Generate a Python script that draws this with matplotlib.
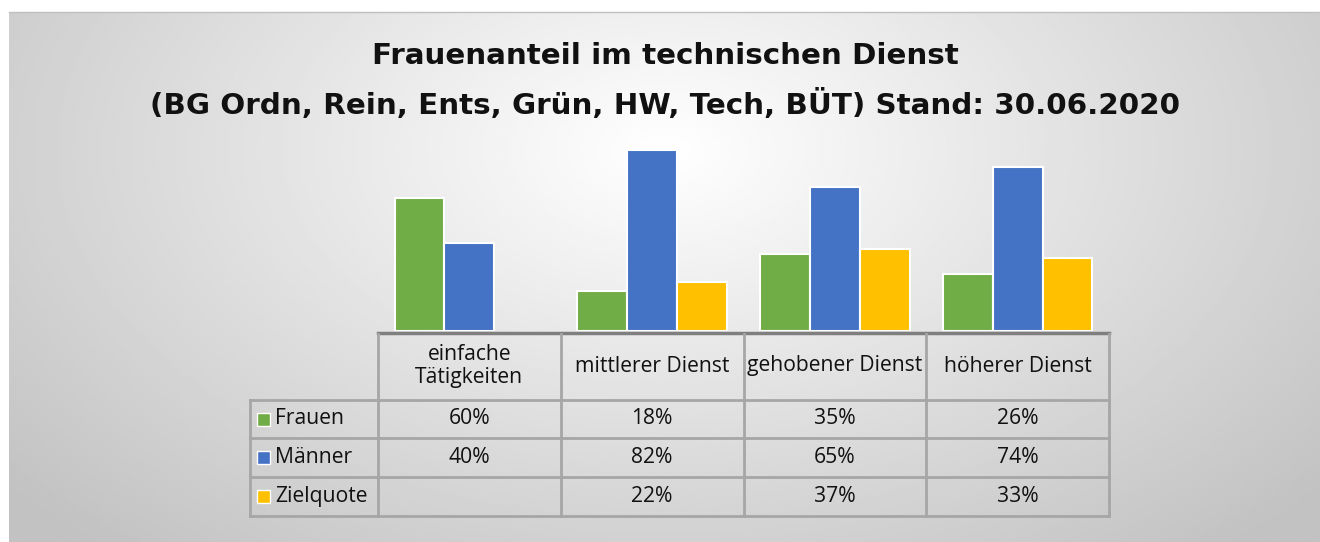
import numpy as np
import matplotlib
matplotlib.use("Agg")
import matplotlib.pyplot as plt
import matplotlib.transforms as mtransforms
from matplotlib.patches import Rectangle

# Daten
kategorien = ["einfache\nTätigkeiten", "mittlerer Dienst", "gehobener Dienst", "höherer Dienst"]
serien = ["Frauen", "Männer", "Zielquote"]
frauen = [0.60, 0.18, 0.35, 0.26]
maenner = [0.40, 0.82, 0.65, 0.74]
zielquote = [None, 0.22, 0.37, 0.33]
farben = ["#70AD47", "#4472C4", "#FFC000"]

titel = "Frauenanteil im technischen Dienst\n(BG Ordn, Rein, Ents, Grün, HW, Tech, BÜT) Stand: 30.06.2020"

W, H = 1320, 542
fig = plt.figure(figsize=(W / 100, H / 100), dpi=100)
fig.patch.set_facecolor("white")

def fy(py):
    return 1 - py / H

# Hintergrund mit radialem Verlauf
x0, y0 = 9, 12
bg = fig.add_axes([x0 / W, 0, (W - x0) / W, fy(y0)])
gx, gy = np.meshgrid(np.linspace(x0, W, 400), np.linspace(y0, H, 200))
r = np.sqrt(((gx - 665) / 760) ** 2 + ((gy - 150) / 460) ** 2)
grau = 1 - 0.21 * np.clip(r, 0, 1.3) / 1.0
grau = np.clip(grau, 0.76, 1)
bg.imshow(grau, cmap="gray", vmin=0, vmax=1, aspect="auto", interpolation="bilinear")
bg.set_axis_off()
fig.add_artist(plt.Line2D([x0 / W, 1], [fy(y0), fy(y0)], color="#bfbfbf", lw=1))

fig.text(665 / W, fy(81), titel, ha="center", va="center", fontsize=21.2,
         fontweight="bold", family="DejaVu Sans", linespacing=1.74, color="#111111")

# Balken
ax = fig.add_axes([378 / W, fy(331), 731 / W, 199 / H])
ax.patch.set_alpha(0)
ax.set_xlim(-0.5, 3.5)
ax.set_ylim(0, 0.9)
ax.set_axis_off()

x = np.arange(len(kategorien))
bw = 0.273
for i, (werte, farbe) in enumerate(zip([frauen, maenner, zielquote], farben)):
    for xi, v in zip(x, werte):
        if v is None:
            continue
        ax.bar(xi + (i - 1) * bw, v, width=bw, color=farbe, edgecolor="white", linewidth=1.5)

# Datentabelle
tr = mtransforms.blended_transform_factory(ax.transData, fig.transFigure)
linie = "#a6a6a6"
links = -1.2
zeilen_y = [400, 438, 477, 516]
ax.plot([-0.5, 3.5], [fy(333), fy(333)], color="#7f7f7f", lw=2.5, transform=tr, clip_on=False)
for py in zeilen_y:
    ax.plot([links, 3.5], [fy(py), fy(py)], color=linie, lw=2, transform=tr, clip_on=False)
ax.plot([links, links], [fy(400), fy(516)], color=linie, lw=2, transform=tr, clip_on=False)
for xv in [-0.5, 0.5, 1.5, 2.5, 3.5]:
    ax.plot([xv, xv], [fy(334), fy(516)], color=linie, lw=2, transform=tr, clip_on=False)

schrift = dict(family="Open Sans", fontsize=15.2, color="#111111")
for xi, k in zip(x, kategorien):
    ax.text(xi, fy(366), k, ha="center", va="center", transform=tr, linespacing=1.1, **schrift)

zeilen_mitte = [419, 457.5, 496.5]
for werte, name, farbe, py in zip([frauen, maenner, zielquote], serien, farben, zeilen_mitte):
    for xi, v in zip(x, werte):
        if v is not None:
            ax.text(xi, fy(py), f"{v:.0%}", ha="center", va="center", transform=tr, **schrift)
    fig.add_artist(Rectangle((257 / W, fy(py + 6.5)), 13 / W, 13 / H, facecolor=farbe,
                             edgecolor="white", lw=1, transform=fig.transFigure))
    fig.text(275 / W, fy(py), name, ha="left", va="center", **schrift)

fig.savefig("out.png", dpi=100)
